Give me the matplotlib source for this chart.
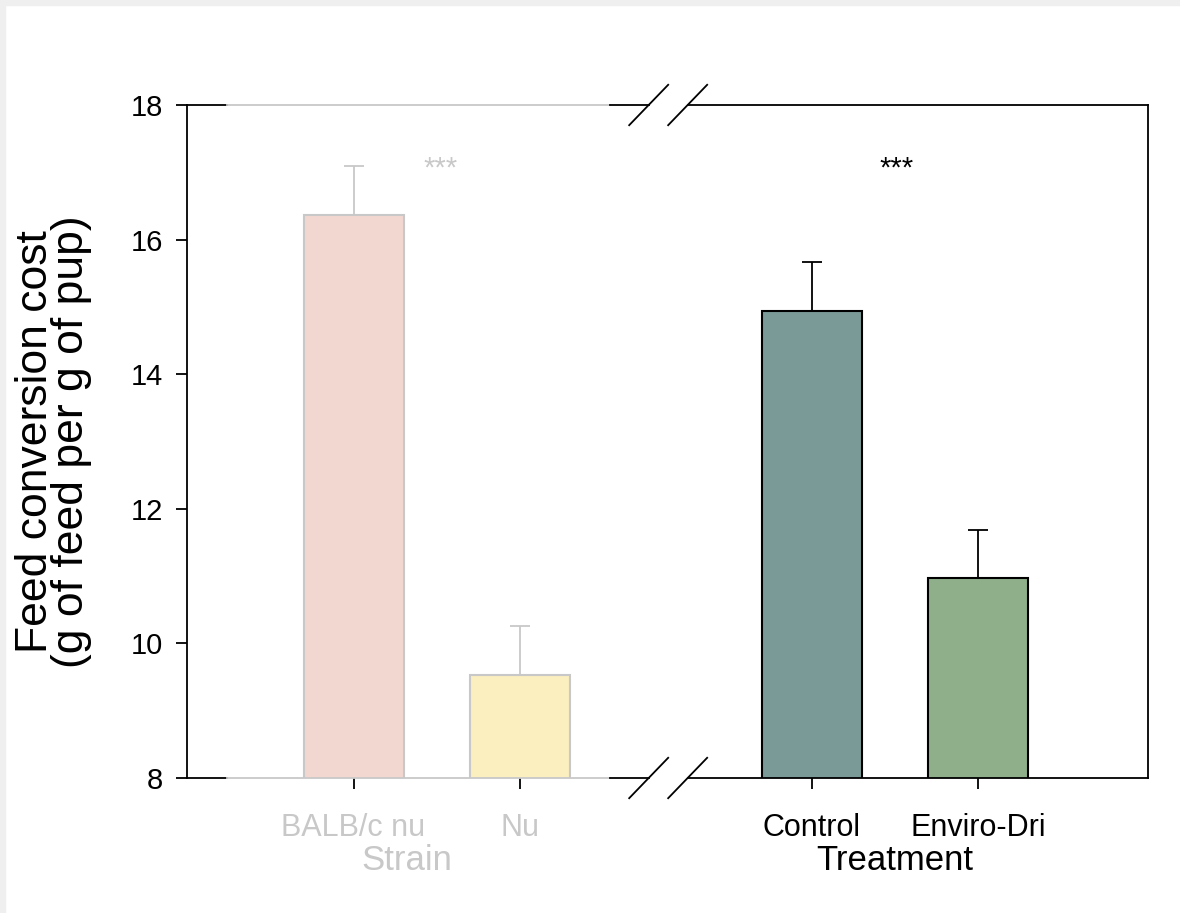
import numpy as np
import matplotlib.pyplot as plt
from matplotlib.patches import Rectangle

plt.rcParams['font.family'] = ['Liberation Sans', 'DejaVu Sans']

# data
strain_labels = ['BALB/c nu', 'Nu']
strain_means = [16.37, 9.53]
strain_err = [0.72, 0.73]
strain_colors = ['#f2d7d0', '#fbeebf']

treat_labels = ['Control', 'Enviro-Dri']
treat_means = [14.94, 10.97]
treat_err = [0.73, 0.72]
treat_colors = ['#7a9a98', '#8faf8a']

y_ticks = [8, 10, 12, 14, 16, 18]

gray = '#c8c8c8'
strain_x = np.array([1.0, 2.0])
treat_x = np.array([3.75, 4.75])
xmax = 5.77

fig = plt.figure(figsize=(11.8, 9.13), dpi=100)
# faint frame on top / left like the original screenshot
fig.patches.append(Rectangle((0, 1 - 5/913), 1, 5/913, transform=fig.transFigure,
                             color='#efefef', zorder=0))
fig.patches.append(Rectangle((0, 0), 5/1180, 1, transform=fig.transFigure,
                             color='#efefef', zorder=0))

ax = fig.add_axes([187/1180, 1 - 778/913, (1148 - 187)/1180, (778 - 105)/913])

ax.bar(strain_x, strain_means, width=0.6, bottom=0, color=strain_colors,
       edgecolor=gray, linewidth=1.5, zorder=3)
ax.errorbar(strain_x, strain_means, yerr=[[0, 0], strain_err], fmt='none',
            ecolor=gray, elinewidth=1.3, capsize=7.5, capthick=1.3, zorder=2)
ax.bar(treat_x, treat_means, width=0.6, color=treat_colors,
       edgecolor='black', linewidth=1.5, zorder=3)
ax.errorbar(treat_x, treat_means, yerr=[[0, 0], treat_err], fmt='none',
            ecolor='black', elinewidth=1.3, capsize=7.5, capthick=1.3, zorder=2)

ax.set_xlim(0, xmax)
ax.set_ylim(8, 18)
ax.set_yticks(y_ticks)
ax.set_yticklabels([str(t) for t in y_ticks])
ax.set_xticks(list(strain_x) + list(treat_x))
ax.set_xticklabels(strain_labels + treat_labels)

ax.tick_params(axis='both', direction='out', length=8, width=1.3)
ax.tick_params(axis='x', pad=17, labelsize=22)
ax.tick_params(axis='y', pad=9, labelsize=21)
for i, t in enumerate(ax.xaxis.get_major_ticks()):
    c = gray if i < 2 else 'black'
    t.tick1line.set_color(c)
    t.label1.set_color(c)

for s in ['top', 'bottom']:
    ax.spines[s].set_visible(False)
ax.spines['left'].set_linewidth(1.3)
ax.spines['right'].set_linewidth(1.3)

# top and bottom axis lines with the break
xb1, xb2 = 2.772, 3.006
for y in [8, 18]:
    ax.plot([0, 0.24], [y, y], color='black', lw=1.3, clip_on=False, zorder=4)
    ax.plot([0.24, 2.539], [y, y], color=gray, lw=1.3, clip_on=False, zorder=4)
    ax.plot([2.539, xb1], [y, y], color='black', lw=1.3, clip_on=False, zorder=4)
    ax.plot([xb2, xmax], [y, y], color='black', lw=1.3, clip_on=False, zorder=4)
    for xc in [xb1, xb2]:
        ax.plot([xc - 0.117, xc + 0.117], [y - 0.3, y + 0.3], color='black',
                lw=1.3, clip_on=False, zorder=4)

ax.text(strain_x.mean() + 0.02, 17.05, '***', color=gray, fontsize=21,
        ha='center', va='center')
ax.text(treat_x.mean() + 0.01, 17.05, '***', color='black', fontsize=21,
        ha='center', va='center')

ax.text(1.32, -0.123, 'Strain', color=gray, fontsize=25, ha='center',
        va='center', transform=ax.get_xaxis_transform())
ax.text(4.25, -0.123, 'Treatment', color='black', fontsize=25, ha='center',
        va='center', transform=ax.get_xaxis_transform())

ax.set_ylabel('Feed conversion cost\n(g of feed per g of pup)', fontsize=32,
              linespacing=0.85, labelpad=28)

fig.savefig('out.png', dpi=100)
